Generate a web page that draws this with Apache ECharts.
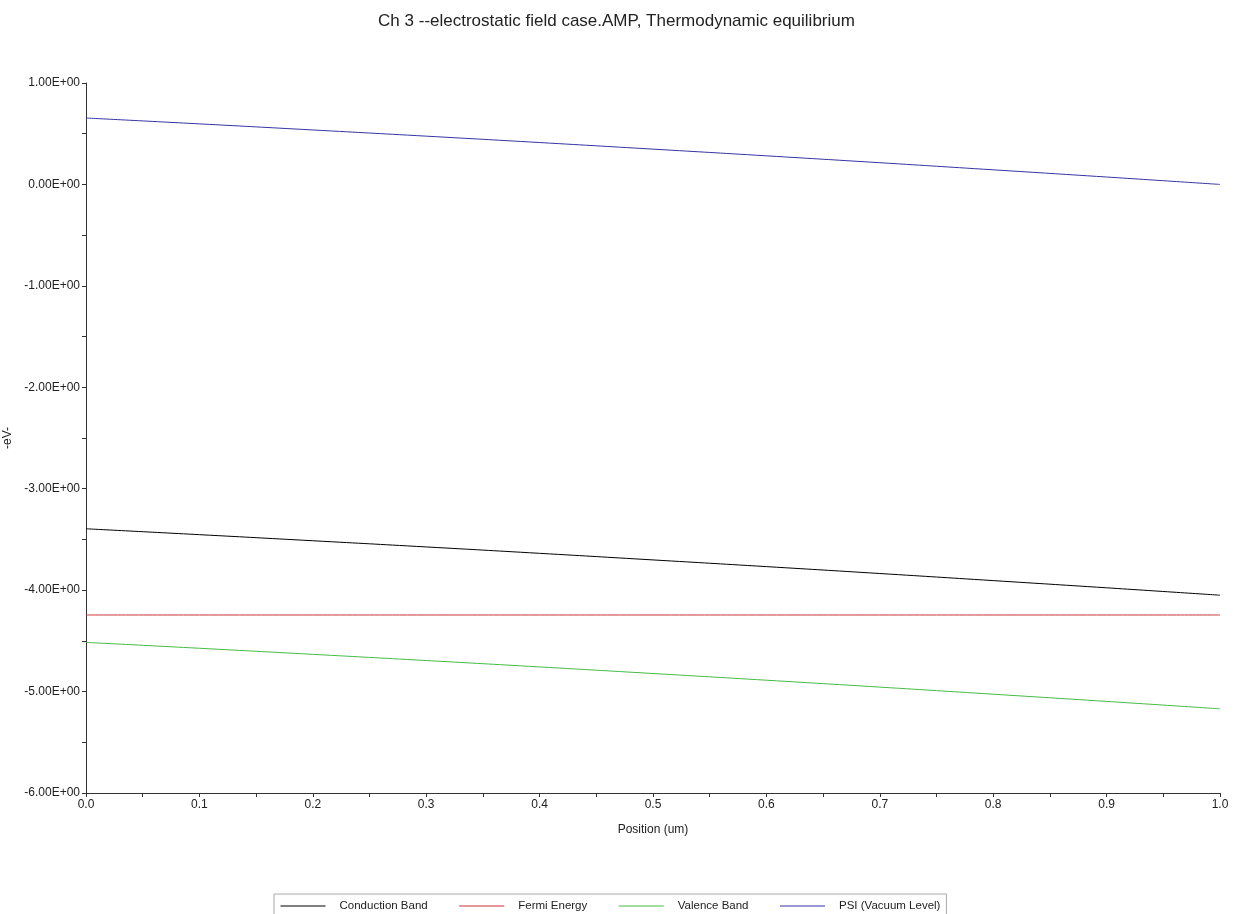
<!DOCTYPE html>
<html>
<head>
<meta charset="utf-8">
<script src="https://cdn.jsdelivr.net/npm/echarts@6/dist/echarts.min.js"></script>
<style>
  html, body { margin: 0; padding: 0; background: #fff; }
  #chart { width: 1233px; height: 914px; }
</style>
</head>
<body>
<div id="chart"></div>
<script>
// position (um)
const positions = [0.0, 0.1, 0.2, 0.3, 0.4, 0.5, 0.6, 0.7, 0.8, 0.9, 1.0];
// energies (eV)
const conductionBand = [-3.395, -3.453, -3.513, -3.574, -3.637, -3.702, -3.768, -3.836, -3.906, -3.977, -4.05];
const fermiEnergy = [-4.245, -4.245, -4.245, -4.245, -4.245, -4.245, -4.245, -4.245, -4.245, -4.245, -4.245];
const valenceBand = [-4.515, -4.573, -4.633, -4.694, -4.757, -4.822, -4.888, -4.956, -5.026, -5.097, -5.17];
const psiVacuum = [0.655, 0.597, 0.537, 0.476, 0.413, 0.348, 0.282, 0.214, 0.144, 0.073, 0.0];

const seriesNames = ["Conduction Band", "Fermi Energy", "Valence Band", "PSI (Vacuum Level)"];
const seriesColors = ["#000000", "#cc3333", "#44bb44", "#3434a0"];
const seriesValues = [conductionBand, fermiEnergy, valenceBand, psiVacuum];

function pairs(vals) {
  return positions.map((x, i) => [x, vals[i]]);
}

const chart = echarts.init(document.getElementById("chart"));

chart.setOption({
  animation: false,
  textStyle: { fontFamily: "Liberation Sans, Arial, sans-serif" },
  title: {
    text: "Ch 3 --electrostatic field case.AMP, Thermodynamic equilibrium",
    left: "center",
    top: 8,
    textStyle: { fontSize: 17, fontWeight: "normal", color: "#222" }
  },
  grid: {
    left: 86,
    right: 13,
    top: 83,
    bottom: 121,
    containLabel: false,
    outerBoundsMode: "none"
  },
  legend: {
    data: seriesNames,
    left: 274,
    top: 894,
    itemWidth: 45,
    itemHeight: 10,
    itemGap: 31,
    borderColor: "#aaa",
    borderWidth: 1,
    padding: [6, 6, 10, 6],
    itemStyle: { opacity: 0 },
    lineStyle: { width: 1 },
    textStyle: { fontSize: 11.5, color: "#222", padding: [0, 0, 0, 9] }
  },
  xAxis: {
    type: "value",
    min: 0,
    max: 1,
    interval: 0.1,
    name: "Position (um)",
    nameLocation: "middle",
    nameGap: 31,
    nameTextStyle: { fontSize: 12, color: "#222" },
    axisLine: { onZero: false, lineStyle: { color: "#333" } },
    axisTick: { length: 4, lineStyle: { color: "#333" } },
    minorTick: { show: true, splitNumber: 2, length: 4, lineStyle: { color: "#333" } },
    axisLabel: { fontSize: 12, color: "#222", margin: 6, formatter: v => v.toFixed(1) },
    splitLine: { show: false }
  },
  yAxis: {
    type: "value",
    min: -6,
    max: 1,
    interval: 1,
    name: "-eV-",
    nameLocation: "middle",
    nameGap: 56,
    nameTextStyle: { fontSize: 12, color: "#222" },
    axisLine: { show: true, onZero: false, lineStyle: { color: "#333" } },
    axisTick: { show: true, length: 4, lineStyle: { color: "#333" } },
    minorTick: { show: true, splitNumber: 2, length: 4, lineStyle: { color: "#333" } },
    axisLabel: { fontSize: 12, color: "#222", margin: 6, formatter: v => v.toFixed(2) + "E+00" },
    splitLine: { show: false }
  },
  series: seriesNames.map((name, i) => ({
    name: name,
    type: "line",
    symbol: "none",
    smooth: true,
    data: pairs(seriesValues[i]),
    lineStyle: { width: 1, color: seriesColors[i] },
    itemStyle: { color: seriesColors[i] }
  }))
});
</script>
</body>
</html>
